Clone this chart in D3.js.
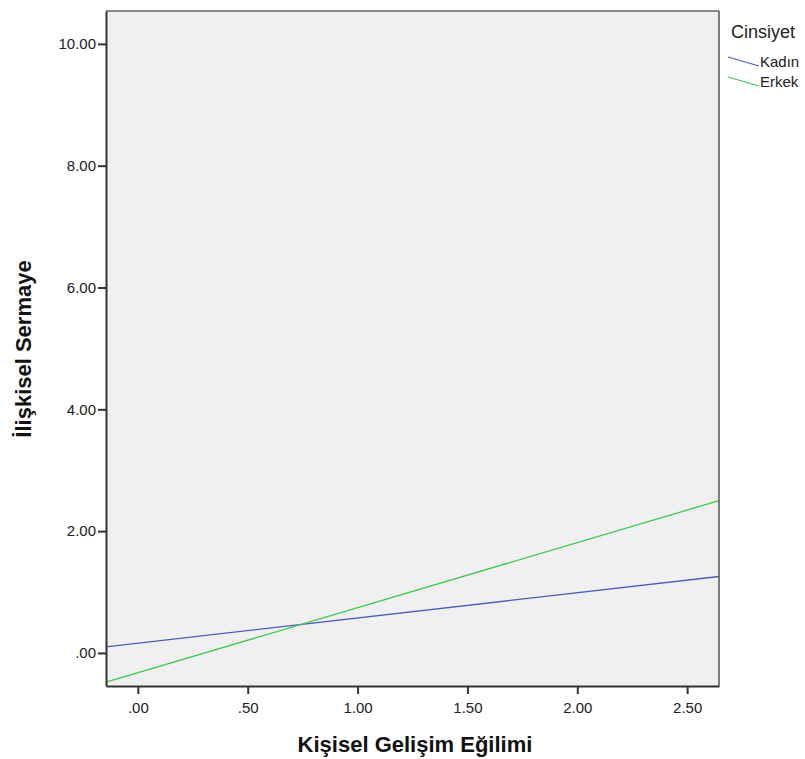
<!DOCTYPE html>
<html>
<head>
<meta charset="utf-8">
<script src="https://cdn.jsdelivr.net/npm/d3@7"></script>
<style>
  body { margin: 0; background: #fff; }
  text { font-family: "Liberation Sans", Arial, sans-serif; }
</style>
</head>
<body>
<svg id="chart" width="805" height="759"></svg>
<script>
// DATA
const series = ["Kadın", "Erkek"];
const colors = ["#4a5fc1", "#3ec94f"];
const xEnds = [-0.145, 2.645];
const kadinValues = [0.10, 1.255];
const erkekValues = [-0.48, 2.50];
const xTicks = [0, 0.5, 1, 1.5, 2, 2.5];
const yTicks = [0, 2, 4, 6, 8, 10];

const svg = d3.select("#chart");
const plotL = 106, plotR = 719, plotT = 11, plotB = 686;

const x = d3.scaleLinear().domain([-0.145, 2.645]).range([plotL, plotR]);
const y = d3.scaleLinear().domain([-0.543, 10.54]).range([plotB, plotT]);

const fmt = d => d3.format(".2f")(d).replace(/^0/, "");

// plot background
svg.append("rect")
    .attr("x", plotL).attr("y", plotT)
    .attr("width", plotR - plotL).attr("height", plotB - plotT)
    .attr("fill", "#f0f0f0");

// regression lines
const lines = [kadinValues, erkekValues];
const line = d3.line().x(d => x(d[0])).y(d => y(d[1]));
lines.forEach((vals, i) => {
    svg.append("path")
        .datum(xEnds.map((xv, j) => [xv, vals[j]]))
        .attr("d", line)
        .attr("fill", "none")
        .attr("stroke", colors[i])
        .attr("stroke-width", 1.3);
});

// frame
svg.append("line").attr("x1", plotL).attr("x2", plotR).attr("y1", plotT).attr("y2", plotT)
    .attr("stroke", "#888").attr("stroke-width", 2);
svg.append("line").attr("x1", plotR).attr("x2", plotR).attr("y1", plotT).attr("y2", plotB)
    .attr("stroke", "#555").attr("stroke-width", 1.5);

// axes
const yAxis = svg.append("g")
    .attr("transform", `translate(${plotL},0)`)
    .call(d3.axisLeft(y).tickValues(yTicks).tickFormat(fmt).tickSize(8).tickSizeOuter(0));
const xAxis = svg.append("g")
    .attr("transform", `translate(0,${plotB})`)
    .call(d3.axisBottom(x).tickValues(xTicks).tickFormat(fmt).tickSize(8).tickSizeOuter(0));

[yAxis, xAxis].forEach(a => {
    a.select(".domain").attr("stroke", "#333").attr("stroke-width", 2);
    a.selectAll(".tick line").attr("stroke", "#333").attr("stroke-width", 2);
    a.selectAll(".tick text").attr("font-size", 15).attr("fill", "#222")
        .attr("font-family", "Liberation Sans, Arial, sans-serif");
});
yAxis.selectAll(".tick text").attr("x", -10);
xAxis.selectAll(".tick text").attr("y", 16);

// axis titles
svg.append("text")
    .attr("x", 415).attr("y", 752)
    .attr("text-anchor", "middle")
    .attr("font-size", 22).attr("font-weight", "bold").attr("fill", "#111")
    .text("Kişisel Gelişim Eğilimi");
svg.append("text")
    .attr("transform", "translate(31,349) rotate(-90)")
    .attr("text-anchor", "middle")
    .attr("font-size", 22).attr("font-weight", "bold").attr("fill", "#111")
    .text("İlişkisel Sermaye");

// legend
const legend = svg.append("g");
legend.append("text")
    .attr("x", 731).attr("y", 38)
    .attr("font-size", 18).attr("fill", "#222")
    .text("Cinsiyet");
series.forEach((s, i) => {
    const yy = 57 + i * 20;
    legend.append("line")
        .attr("x1", 728).attr("y1", yy).attr("x2", 759).attr("y2", yy + 9)
        .attr("stroke", colors[i]).attr("stroke-width", 1.3);
    legend.append("text")
        .attr("x", 760).attr("y", yy + 10)
        .attr("font-size", 15).attr("fill", "#222")
        .text(s);
});
</script>
</body>
</html>
